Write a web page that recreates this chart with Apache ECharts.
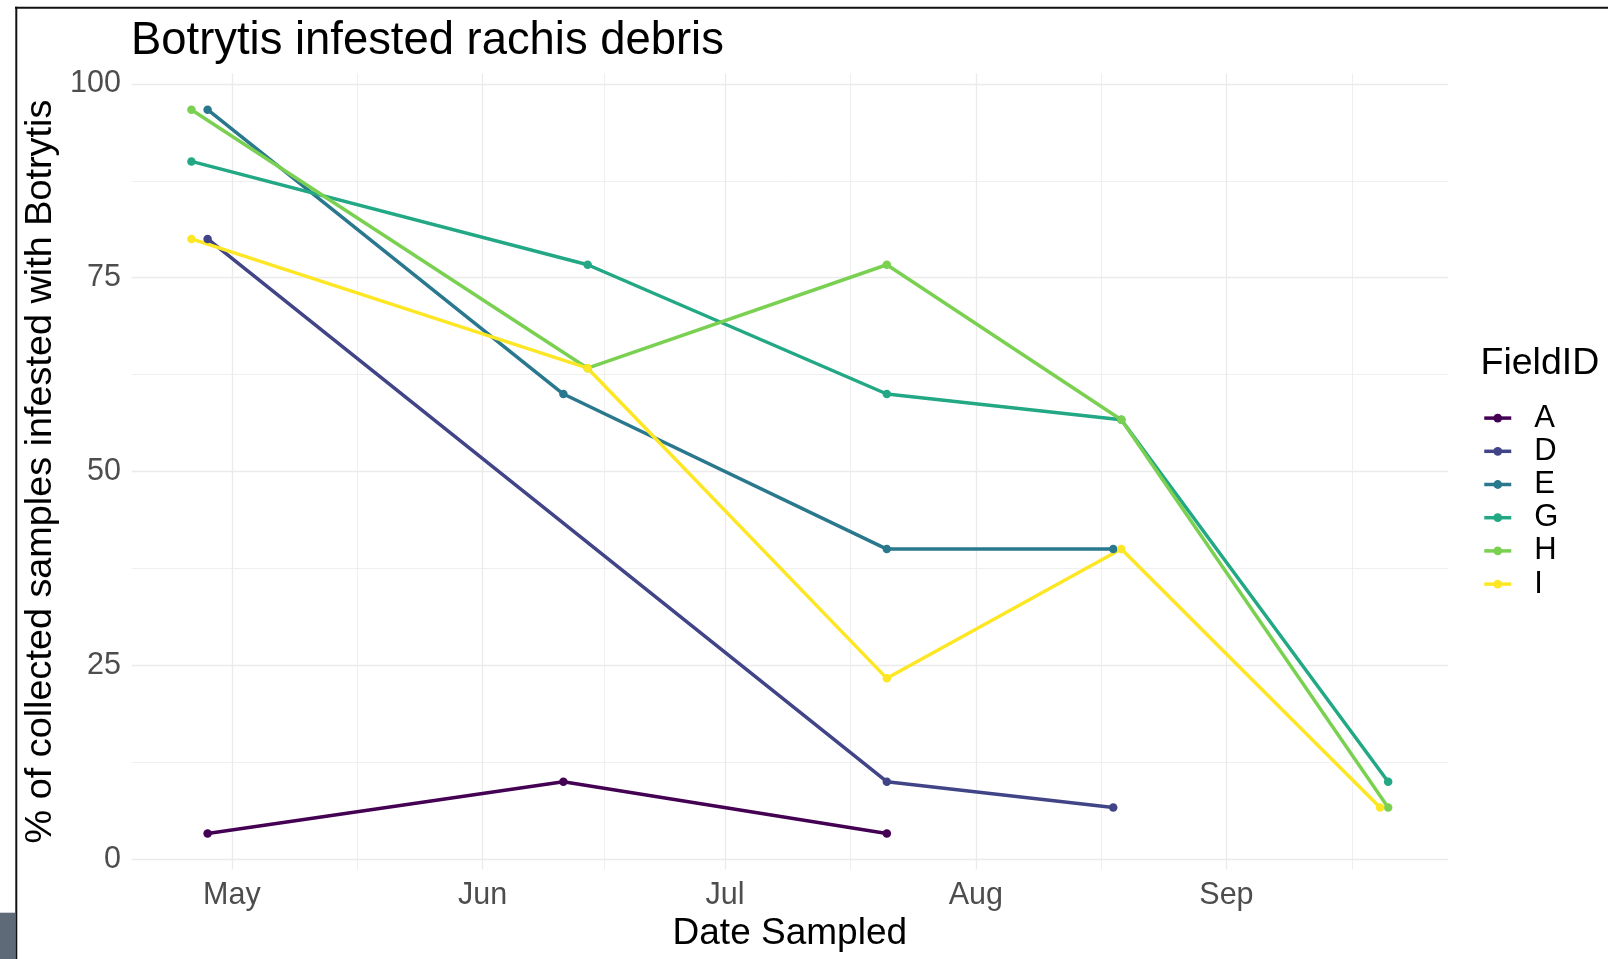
<!DOCTYPE html>
<html>
<head>
<meta charset="utf-8">
<script src="https://cdn.jsdelivr.net/npm/echarts@6/dist/echarts.min.js"></script>
<style>
html,body{margin:0;padding:0;background:#fff;}
#chart{width:1608px;height:959px;}
</style>
</head>
<body>
<div id="chart"></div>
<script>
// ---- data ----
const fieldIds = ['A', 'D', 'E', 'G', 'H', 'I'];
const datesA = ['2019-04-28', '2019-06-11', '2019-07-21'];
const valuesA = [3.33, 10, 3.33];
const datesD = ['2019-04-28', '2019-07-21', '2019-08-18'];
const valuesD = [80, 10, 6.67];
const datesE = ['2019-04-28', '2019-06-11', '2019-07-21', '2019-08-18'];
const valuesE = [96.67, 60, 40, 40];
const datesG = ['2019-04-26', '2019-06-14', '2019-07-21', '2019-08-19', '2019-09-21'];
const valuesG = [90, 76.67, 60, 56.67, 10];
const datesH = ['2019-04-26', '2019-06-14', '2019-07-21', '2019-08-19', '2019-09-21'];
const valuesH = [96.67, 63.33, 76.67, 56.67, 6.67];
const datesI = ['2019-04-26', '2019-06-14', '2019-07-21', '2019-08-19', '2019-09-20'];
const valuesI = [80, 63.33, 23.33, 40, 6.67];

// axis breaks / tick labels
const monthBreaks = ['2019-05-01', '2019-06-01', '2019-07-01', '2019-08-01', '2019-09-01'];
const monthLabels = ['May', 'Jun', 'Jul', 'Aug', 'Sep'];
const monthMinorBreaks = ['2019-05-16T12:00:00', '2019-06-16T00:00:00', '2019-07-16T12:00:00', '2019-08-16T12:00:00', '2019-09-16T12:00:00'];
const yBreaks = [0, 25, 50, 75, 100];
const yMinorBreaks = [12.5, 37.5, 62.5, 87.5];

const colors = ['#440154', '#414487', '#2A788E', '#22A884', '#7AD151', '#FDE725'];

// ---- build ----
const toTs = s => new Date(s.length > 10 ? s : s + 'T00:00:00').getTime();
const seriesDates = [datesA, datesD, datesE, datesG, datesH, datesI];
const seriesValues = [valuesA, valuesD, valuesE, valuesG, valuesH, valuesI];

const allTs = seriesDates.flat().map(toTs);
const allVals = seriesValues.flat();
const xMinD = Math.min(...allTs), xMaxD = Math.max(...allTs);
const xPad = (xMaxD - xMinD) * 0.05;
const yMinD = Math.min(...allVals), yMaxD = Math.max(...allVals);
const yPad = (yMaxD - yMinD) * 0.05;
const xMin = xMinD - xPad, xMax = xMaxD + xPad;
const yMin = yMinD - yPad, yMax = yMaxD + yPad;

const majorX = monthBreaks.map(toTs);
const minorX = monthMinorBreaks.map(toTs);

const font = 'Liberation Sans, Arial, sans-serif';
const gridCol = '#EBEBEB';

const series = fieldIds.map((id, i) => ({
  name: id,
  type: 'line',
  xAxisIndex: 0,
  yAxisIndex: 0,
  data: seriesDates[i].map((d, j) => [toTs(d), seriesValues[i][j]]),
  symbol: 'circle',
  symbolSize: 8.5,
  showSymbol: true,
  lineStyle: { width: 3.5, color: colors[i] },
  itemStyle: { color: colors[i] },
  emphasis: { disabled: true },
  animation: false,
  z: 3
}));

const chart = echarts.init(document.getElementById('chart'));
chart.setOption({
  animation: false,
  backgroundColor: '#ffffff',
  color: colors,
  title: [
    {
      text: 'Botrytis infested rachis debris',
      left: 131, top: 19, padding: 0,
      textStyle: { fontFamily: font, fontSize: 45.4, fontWeight: 'normal', color: '#000' }
    },
    {
      text: 'FieldID',
      left: 1480.5, top: 345, padding: 0,
      textStyle: { fontFamily: font, fontSize: 37.5, fontWeight: 'normal', color: '#000' }
    }
  ],
  legend: {
    orient: 'vertical',
    left: 1482.5, top: 401.5,
    padding: 0,
    itemGap: 0,
    itemWidth: 27,
    itemHeight: 11,
    data: fieldIds,
    selectedMode: false,
    lineStyle: { width: 3.5 },
    textStyle: { fontFamily: font, fontSize: 31, color: '#000', lineHeight: 33.2, padding: [0, 0, 0, 18] }
  },
  grid: { left: 131.6, right: 160, top: 73.5, bottom: 89.4, containLabel: false },
  xAxis: [
    {
      type: 'value', min: xMin, max: xMax,
      name: 'Date Sampled', nameLocation: 'middle', nameGap: 42,
      nameTextStyle: { fontFamily: font, fontSize: 37, color: '#000' },
      axisLine: { show: false },
      axisTick: { show: false, customValues: majorX },
      axisLabel: {
        customValues: majorX, margin: 10, fontFamily: font, fontSize: 30.5, color: '#4D4D4D',
        formatter: v => { const k = majorX.indexOf(v); return k >= 0 ? monthLabels[k] : ''; }
      },
      splitLine: { show: true, lineStyle: { color: gridCol, width: 1.3 } }
    },
    {
      type: 'value', min: xMin, max: xMax, position: 'top',
      axisLine: { show: false },
      axisTick: { show: false, customValues: minorX },
      axisLabel: { show: false, customValues: minorX },
      splitLine: { show: true, lineStyle: { color: gridCol, width: 0.8 } }
    }
  ],
  yAxis: [
    {
      type: 'value', min: yMin, max: yMax,
      name: '% of collected samples infested with Botrytis', nameLocation: 'middle', nameGap: 61, nameRotate: 90,
      nameTextStyle: { fontFamily: font, fontSize: 37.8, color: '#000' },
      axisLine: { show: false },
      axisTick: { show: false, customValues: yBreaks },
      axisLabel: { customValues: yBreaks, margin: 10.6, fontFamily: font, fontSize: 30.5, color: '#4D4D4D', padding: [5.4, 0, 0, 0] },
      splitLine: { show: true, lineStyle: { color: gridCol, width: 1.3 } }
    },
    {
      type: 'value', min: yMin, max: yMax, position: 'left',
      axisLine: { show: false },
      axisTick: { show: false, customValues: yMinorBreaks },
      axisLabel: { show: false, customValues: yMinorBreaks },
      splitLine: { show: true, lineStyle: { color: gridCol, width: 0.8 } }
    }
  ],
  graphic: [
    { type: 'line', shape: { x1: 15, y1: 7.7, x2: 1608, y2: 7.7 }, style: { stroke: '#111', lineWidth: 2 }, z: 10 },
    { type: 'line', shape: { x1: 16.3, y1: 6.7, x2: 16.3, y2: 959 }, style: { stroke: '#111', lineWidth: 2 }, z: 10 },
    { type: 'rect', shape: { x: 0, y: 912.7, width: 15.3, height: 47 }, style: { fill: '#5E6A78' }, z: 10 }
  ],
  series: series
});
</script>
</body>
</html>
